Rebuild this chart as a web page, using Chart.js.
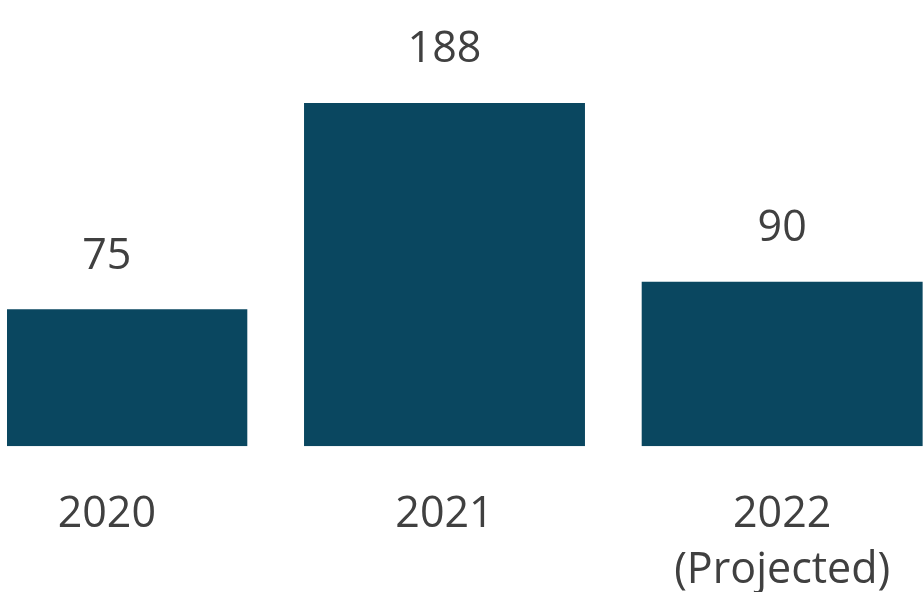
<!DOCTYPE html>
<html>
<head>
<meta charset="utf-8">
<script src="https://cdn.jsdelivr.net/npm/chart.js@4"></script>
<style>
    html, body { margin: 0; padding: 0; background: #fff; overflow: hidden; width: 923px; height: 592px; }
    #wrap { position: absolute; left: 7px; top: 0; width: 916px; height: 592px; overflow: hidden; }
    #myChart { position: absolute; left: -69px; top: 0; }
</style>
</head>
<body>
<div id="wrap"><canvas id="myChart" width="1013" height="632"></canvas></div>
<script>
// Données du graphique
const categories = [['2020'], ['2021'], ['2022', '(Projected)']];
const values = [75, 188, 90];

const barColor = '#0a4760';
const textColor = '#404040';
const fontFamily = '"Open Sans", "Noto Sans", sans-serif';

// Plugin pour afficher les valeurs au-dessus des barres
const valueLabels = {
    id: 'valueLabels',
    afterDatasetsDraw(chart) {
        const ctx = chart.ctx;
        const meta = chart.getDatasetMeta(0);
        ctx.save();
        ctx.font = '43px ' + fontFamily;
        ctx.fillStyle = textColor;
        ctx.textAlign = 'center';
        ctx.textBaseline = 'middle';
        meta.data.forEach((bar, i) => {
            ctx.fillText(String(values[i]), bar.x, bar.y - 53);
        });
        ctx.restore();
    }
};

const ctx = document.getElementById('myChart').getContext('2d');
new Chart(ctx, {
    type: 'bar',
    data: {
        labels: categories,
        datasets: [{
            data: values,
            backgroundColor: barColor,
            borderWidth: 0,
            categoryPercentage: 1,
            barPercentage: 0.832
        }]
    },
    options: {
        responsive: false,
        animation: false,
        devicePixelRatio: 1,
        layout: { padding: { top: 81, left: 0, right: 0, bottom: 0 } },
        plugins: {
            legend: { display: false },
            tooltip: { enabled: false },
            title: { display: false }
        },
        scales: {
            x: {
                grid: { display: false },
                border: { display: false },
                ticks: {
                    color: textColor,
                    padding: 33,
                    font: { family: fontFamily, size: 43, lineHeight: 1.3 }
                }
            },
            y: {
                display: false,
                min: 0,
                max: 200
            }
        }
    },
    plugins: [valueLabels]
});
</script>
</body>
</html>
